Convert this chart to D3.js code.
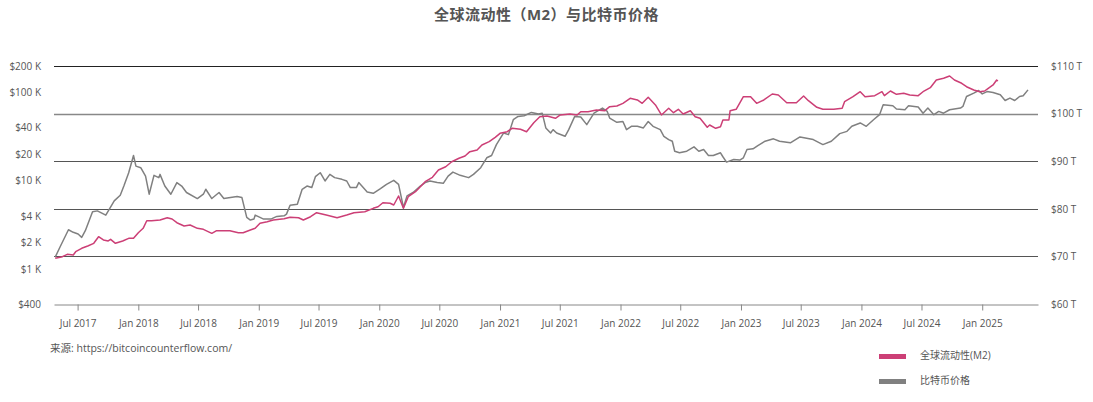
<!DOCTYPE html>
<html>
<head>
<meta charset="utf-8">
<script src="https://cdn.jsdelivr.net/npm/d3@7"></script>
<style>
  body { margin: 0; background: #fff; }
  svg text { font-family: "Open Sans", "Noto Sans CJK SC", sans-serif; fill: #555; }
</style>
</head>
<body>
<div id="vis"></div>
<script>
// bitcoin price (USD), [decimal year, price]
var btcSeries = [
  [2017.31, 1358], [2017.35, 1774], [2017.42, 2780], [2017.46, 2600], [2017.50, 2489],
  [2017.53, 2280], [2017.56, 2710], [2017.62, 4436], [2017.66, 4550], [2017.73, 4074],
  [2017.80, 5902], [2017.85, 6840], [2017.88, 8710], [2017.92, 12330], [2017.96, 19320],
  [2017.98, 14650], [2018.02, 14060], [2018.06, 11300], [2018.09, 7030], [2018.13, 11510],
  [2018.17, 10840], [2018.18, 11800], [2018.22, 8710], [2018.27, 7030], [2018.32, 9530],
  [2018.36, 8710], [2018.40, 7350], [2018.49, 6280], [2018.54, 7030], [2018.56, 8000],
  [2018.61, 6280], [2018.67, 7350], [2018.71, 6280], [2018.82, 6620], [2018.86, 6440],
  [2018.90, 3837], [2018.93, 3580], [2018.96, 3673], [2018.97, 4074], [2019.01, 3837],
  [2019.04, 3673], [2019.10, 3673], [2019.15, 3936], [2019.21, 4000], [2019.23, 4180],
  [2019.26, 5280], [2019.32, 5420], [2019.36, 8000], [2019.40, 8710], [2019.44, 8360],
  [2019.47, 11120], [2019.51, 12330], [2019.55, 9930], [2019.59, 11800], [2019.63, 10840],
  [2019.69, 10370], [2019.73, 9930], [2019.76, 8360], [2019.81, 8360], [2019.83, 9530],
  [2019.90, 7460], [2019.95, 7210], [2020.01, 8150], [2020.06, 9100], [2020.12, 10110],
  [2020.16, 9100], [2020.20, 4980], [2020.23, 6730], [2020.28, 7350], [2020.34, 8710],
  [2020.38, 9530], [2020.42, 9930], [2020.48, 9530], [2020.53, 9350], [2020.57, 11300],
  [2020.61, 12530], [2020.67, 11510], [2020.74, 10840], [2020.78, 11800], [2020.84, 14060],
  [2020.89, 18200], [2020.93, 19320], [2020.97, 25700], [2021.03, 34830], [2021.07, 33340],
  [2021.11, 49200], [2021.15, 53600], [2021.20, 54600], [2021.26, 59550], [2021.32, 57020],
  [2021.35, 58330], [2021.38, 39720], [2021.42, 34830], [2021.44, 37930], [2021.47, 34830],
  [2021.54, 31920], [2021.57, 37930], [2021.62, 53600], [2021.67, 52800], [2021.72, 43250],
  [2021.78, 58330], [2021.85, 66700], [2021.89, 61100], [2021.91, 51400], [2021.97, 45900],
  [2022.02, 46960], [2022.05, 37930], [2022.09, 41400], [2022.14, 41400], [2022.19, 39720],
  [2022.23, 46960], [2022.27, 41400], [2022.33, 37930], [2022.36, 31920], [2022.40, 29300],
  [2022.43, 28050], [2022.45, 21620], [2022.49, 20750], [2022.55, 21620], [2022.61, 24200],
  [2022.65, 21620], [2022.69, 22600], [2022.73, 19320], [2022.77, 19320], [2022.83, 20750],
  [2022.85, 18700], [2022.88, 16260], [2022.94, 17420], [2022.99, 17140], [2023.02, 18200],
  [2023.05, 22600], [2023.10, 23000], [2023.14, 25060], [2023.20, 28050], [2023.27, 29850],
  [2023.32, 28050], [2023.41, 26900], [2023.49, 31400], [2023.60, 29300], [2023.68, 25700],
  [2023.75, 28050], [2023.82, 34200], [2023.88, 36300], [2023.92, 41400], [2023.99, 45200],
  [2024.04, 41400], [2024.10, 49200], [2024.15, 56100], [2024.18, 72600], [2024.26, 70800],
  [2024.29, 65000], [2024.36, 63800], [2024.39, 70800], [2024.47, 68400], [2024.51, 58330],
  [2024.55, 66700], [2024.60, 56100], [2024.64, 61100], [2024.68, 58330], [2024.73, 63800],
  [2024.82, 66700], [2024.84, 69500], [2024.87, 90200], [2024.93, 98400], [2024.97, 105400],
  [2025.00, 96600], [2025.04, 102600], [2025.09, 100000], [2025.15, 94200], [2025.19, 81300],
  [2025.23, 86500], [2025.27, 81300], [2025.31, 90200], [2025.34, 91800], [2025.38, 107200]
];

// global M2 liquidity (trillion USD), [decimal year, value]
var m2Series = [
  [2017.31, 69.60], [2017.37, 69.94], [2017.41, 70.44], [2017.46, 70.29], [2017.48, 70.99],
  [2017.53, 71.70], [2017.58, 72.18], [2017.63, 72.75], [2017.67, 74.14], [2017.71, 73.45],
  [2017.75, 73.24], [2017.77, 73.59], [2017.81, 72.75], [2017.87, 73.24], [2017.92, 73.80],
  [2017.96, 73.80], [2018.00, 74.98], [2018.04, 75.90], [2018.07, 77.50], [2018.11, 77.50],
  [2018.18, 77.65], [2018.24, 78.13], [2018.28, 77.86], [2018.32, 77.08], [2018.38, 76.39],
  [2018.43, 76.60], [2018.49, 75.90], [2018.54, 75.69], [2018.61, 74.85], [2018.65, 75.40],
  [2018.76, 75.40], [2018.83, 74.98], [2018.87, 74.98], [2018.93, 75.55], [2018.97, 75.90],
  [2019.01, 76.95], [2019.07, 77.29], [2019.12, 77.65], [2019.21, 77.92], [2019.26, 78.21],
  [2019.33, 78.13], [2019.37, 77.65], [2019.43, 78.34], [2019.48, 79.18], [2019.56, 78.70],
  [2019.65, 78.13], [2019.73, 78.70], [2019.79, 79.18], [2019.88, 79.39], [2019.95, 80.10],
  [2019.99, 80.44], [2020.03, 81.28], [2020.09, 81.16], [2020.12, 80.80], [2020.16, 82.69],
  [2020.20, 80.10], [2020.24, 82.54], [2020.30, 83.59], [2020.34, 84.64], [2020.38, 85.69],
  [2020.44, 86.62], [2020.49, 88.15], [2020.55, 88.84], [2020.60, 89.89], [2020.66, 90.61],
  [2020.71, 91.09], [2020.75, 92.00], [2020.81, 92.35], [2020.85, 93.40], [2020.91, 94.10],
  [2020.96, 95.02], [2021.00, 95.86], [2021.06, 96.20], [2021.10, 96.91], [2021.17, 96.70],
  [2021.22, 96.20], [2021.28, 98.09], [2021.33, 99.35], [2021.39, 99.50], [2021.46, 99.01],
  [2021.50, 99.71], [2021.58, 99.92], [2021.64, 99.71], [2021.67, 100.40], [2021.73, 100.40],
  [2021.80, 100.76], [2021.87, 100.61], [2021.91, 101.45], [2021.97, 101.60], [2022.02, 102.16],
  [2022.08, 103.21], [2022.14, 102.86], [2022.18, 102.16], [2022.23, 103.42], [2022.29, 101.81],
  [2022.34, 99.71], [2022.40, 101.11], [2022.44, 100.19], [2022.48, 100.90], [2022.52, 99.92],
  [2022.58, 100.61], [2022.62, 99.35], [2022.66, 99.01], [2022.72, 97.12], [2022.74, 97.61],
  [2022.79, 96.91], [2022.83, 97.25], [2022.85, 98.66], [2022.90, 98.66], [2022.91, 100.61],
  [2022.96, 100.90], [2023.02, 103.55], [2023.08, 103.55], [2023.13, 102.16], [2023.19, 102.86],
  [2023.26, 104.12], [2023.31, 103.91], [2023.38, 102.29], [2023.46, 102.29], [2023.52, 103.70],
  [2023.56, 102.71], [2023.63, 101.32], [2023.68, 100.90], [2023.77, 100.90], [2023.84, 101.11],
  [2023.86, 102.50], [2023.93, 103.55], [2023.99, 104.60], [2024.03, 103.55], [2024.11, 103.76],
  [2024.17, 104.60], [2024.19, 103.76], [2024.24, 104.75], [2024.29, 104.05], [2024.35, 104.26],
  [2024.40, 103.91], [2024.47, 103.76], [2024.51, 104.60], [2024.57, 105.44], [2024.62, 107.06],
  [2024.68, 107.42], [2024.73, 107.90], [2024.77, 107.06], [2024.83, 106.37], [2024.87, 105.65],
  [2024.93, 104.96], [2024.98, 104.60], [2025.02, 104.75], [2025.05, 105.32], [2025.09, 106.01],
  [2025.12, 107.06], [2025.13, 106.85]
];

var xTickDates = ['2017-07', '2018-01', '2018-07', '2019-01', '2019-07', '2020-01', '2020-07',
  '2021-01', '2021-07', '2022-01', '2022-07', '2023-01', '2023-07', '2024-01', '2024-07', '2025-01'];
var leftTicks = [400, 1000, 2000, 4000, 10000, 20000, 40000, 100000, 200000];
var rightTicks = [60, 70, 80, 90, 100, 110];

var title = '全球流动性（M2）与比特币价格';
var sourceText = '来源: https://bitcoincounterflow.com/';
var legendItems = [
  { label: '全球流动性(M2)', color: '#cc3f76' },
  { label: '比特币价格', color: '#808080' }
];

var width = 1093, height = 402;
var margin = { top: 66, right: 55, bottom: 98, left: 54 };

function fromDecimalYear(t) {
  var y = Math.floor(t),
      start = new Date(y, 0, 1),
      end = new Date(y + 1, 0, 1);
  return new Date(+start + (t - y) * (end - start));
}

var svg = d3.select('#vis').append('svg')
  .attr('width', width)
  .attr('height', height);

var x = d3.scaleTime()
  .domain([fromDecimalYear(2017.30), fromDecimalYear(2025.463)])
  .range([margin.left, width - margin.right]);

var yLeft = d3.scaleLog()
  .domain([400, 200000])
  .range([height - margin.bottom, margin.top]);

var yRight = d3.scaleLinear()
  .domain([60, 110])
  .range([height - margin.bottom, margin.top]);

/* Title */
svg.append('text')
  .attr('x', width / 2)
  .attr('y', 20)
  .attr('text-anchor', 'middle')
  .style('font-size', '15px')
  .style('font-weight', 'bold')
  .style('letter-spacing', '0.5px')
  .text(title);

/* Horizontal grid lines follow the right axis */
svg.append('g')
  .selectAll('line')
  .data(rightTicks.slice(1))
  .enter().append('line')
    .attr('x1', margin.left)
    .attr('x2', width - margin.right)
    .attr('y1', function(d) { return Math.round(yRight(d)) + 0.5; })
    .attr('y2', function(d) { return Math.round(yRight(d)) + 0.5; })
    .attr('stroke', function(d) {
      return d === 110 ? '#222' : (d === 100 ? '#888' : '#555');
    })
    .attr('stroke-width', function(d) { return d === 100 ? 1.5 : 1; });

/* Bottom axis */
var xAxis = d3.axisBottom(x)
  .tickValues(xTickDates.map(function(s) { return d3.timeParse('%Y-%m')(s); }))
  .tickFormat(d3.timeFormat('%b %Y'))
  .tickSize(6)
  .tickSizeOuter(0);

var gx = svg.append('g')
  .attr('transform', 'translate(0,' + (Math.round(yRight(60)) + 0.5) + ')')
  .call(xAxis);
gx.select('.domain').attr('stroke', '#888');
gx.selectAll('.tick line').attr('stroke', '#888');
gx.selectAll('.tick text')
  .attr('dy', '1.35em')
  .style('font-size', '10px');

/* Left axis (log, bitcoin) */
var leftFormat = function(d) {
  return d >= 1000 ? '$' + (d / 1000) + ' K' : '$' + d;
};
var gl = svg.append('g')
  .attr('transform', 'translate(' + (margin.left - 10) + ',0)')
  .call(d3.axisLeft(yLeft).tickValues(leftTicks).tickFormat(leftFormat).tickSize(0));
gl.select('.domain').remove();
gl.selectAll('text').style('font-size', '10px');

/* Right axis (linear, M2) */
var gr = svg.append('g')
  .attr('transform', 'translate(' + (width - margin.right + 10) + ',0)')
  .call(d3.axisRight(yRight).tickValues(rightTicks)
    .tickFormat(function(d) { return '$' + d + ' T'; }).tickSize(0));
gr.select('.domain').remove();
gr.selectAll('text').style('font-size', '10px');

/* Lines */
var btcLine = d3.line()
  .x(function(d) { return x(fromDecimalYear(d[0])); })
  .y(function(d) { return yLeft(d[1]); });

var m2Line = d3.line()
  .x(function(d) { return x(fromDecimalYear(d[0])); })
  .y(function(d) { return yRight(d[1]); });

svg.append('path')
  .datum(btcSeries)
  .attr('fill', 'none')
  .attr('stroke', legendItems[1].color)
  .attr('stroke-width', 1.5)
  .attr('stroke-linejoin', 'round')
  .attr('d', btcLine);

svg.append('path')
  .datum(m2Series)
  .attr('fill', 'none')
  .attr('stroke', legendItems[0].color)
  .attr('stroke-width', 1.5)
  .attr('stroke-linejoin', 'round')
  .attr('d', m2Line);

/* Source note */
svg.append('text')
  .attr('x', 50)
  .attr('y', 352)
  .style('font-size', '10.5px')
  .text(sourceText);

/* Legend */
var legend = svg.append('g')
  .selectAll('g')
  .data(legendItems)
  .enter().append('g')
    .attr('transform', function(d, i) {
      return 'translate(879,' + (354 + i * 25) + ')';
    });

legend.append('rect')
  .attr('width', 27)
  .attr('height', 5)
  .attr('fill', function(d) { return d.color; });

legend.append('text')
  .attr('x', 41)
  .attr('y', 5)
  .style('font-size', '10px')
  .text(function(d) { return d.label; });
</script>
</body>
</html>
